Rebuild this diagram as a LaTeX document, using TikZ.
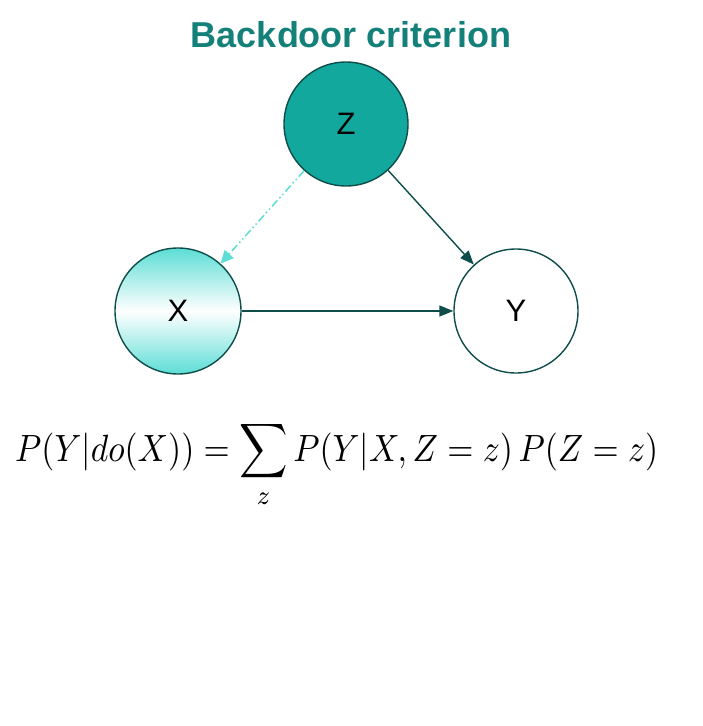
\documentclass[tikz,border=0pt]{standalone}
\usepackage{fontspec}
\usepackage{amsmath}
\setsansfont{Liberation Sans}
\usetikzlibrary{arrows.meta,shadings}
\definecolor{titleteal}{HTML}{138079}
\definecolor{zfill}{HTML}{12A89D}
\definecolor{xcyan}{HTML}{5CDDD5}
\definecolor{edge}{HTML}{0E4D4A}
\begin{document}
\begin{tikzpicture}[x=1pt,y=-1pt,
  var/.style={circle,draw=edge,line width=1.4pt,minimum size=124pt,inner sep=0pt,font=\sffamily\fontsize{31}{36}\selectfont},
  conn/.style={draw=edge,line width=1.4pt,-{Triangle[length=14pt,width=11pt]}},
  back/.style={draw=xcyan,line width=1.5pt,dash pattern=on 8pt off 3pt on 1.5pt off 3pt on 1.5pt off 3pt,-{Triangle[length=13pt,width=12pt]}}]
\useasboundingbox (0,0) rectangle (702,726);
\node[font=\sffamily\bfseries\fontsize{36}{42}\selectfont,text=titleteal] (title) at (351,35) {Backdoor criterion};
\node[var,fill=zfill] (Z) at (346,124) {Z};
\node[var,minimum size=126pt,top color=xcyan,bottom color=xcyan,middle color=white] (X) at (178,311) {X};
\node[var,fill=white] (Y) at (516,311) {Y};
\draw[back] (Z) -- (X);
\draw[conn] (Z) -- (Y);
\draw[conn] (X) -- (Y);
\node[anchor=base west,inner sep=0pt] (eq) at (15,461) {\scalebox{1}[1.13]{\resizebox{643pt}{!}{$\displaystyle P(Y|do(X))=\sum_{z}P(Y|X,Z=z)\,P(Z=z)$}}};
\end{tikzpicture}
\end{document}
